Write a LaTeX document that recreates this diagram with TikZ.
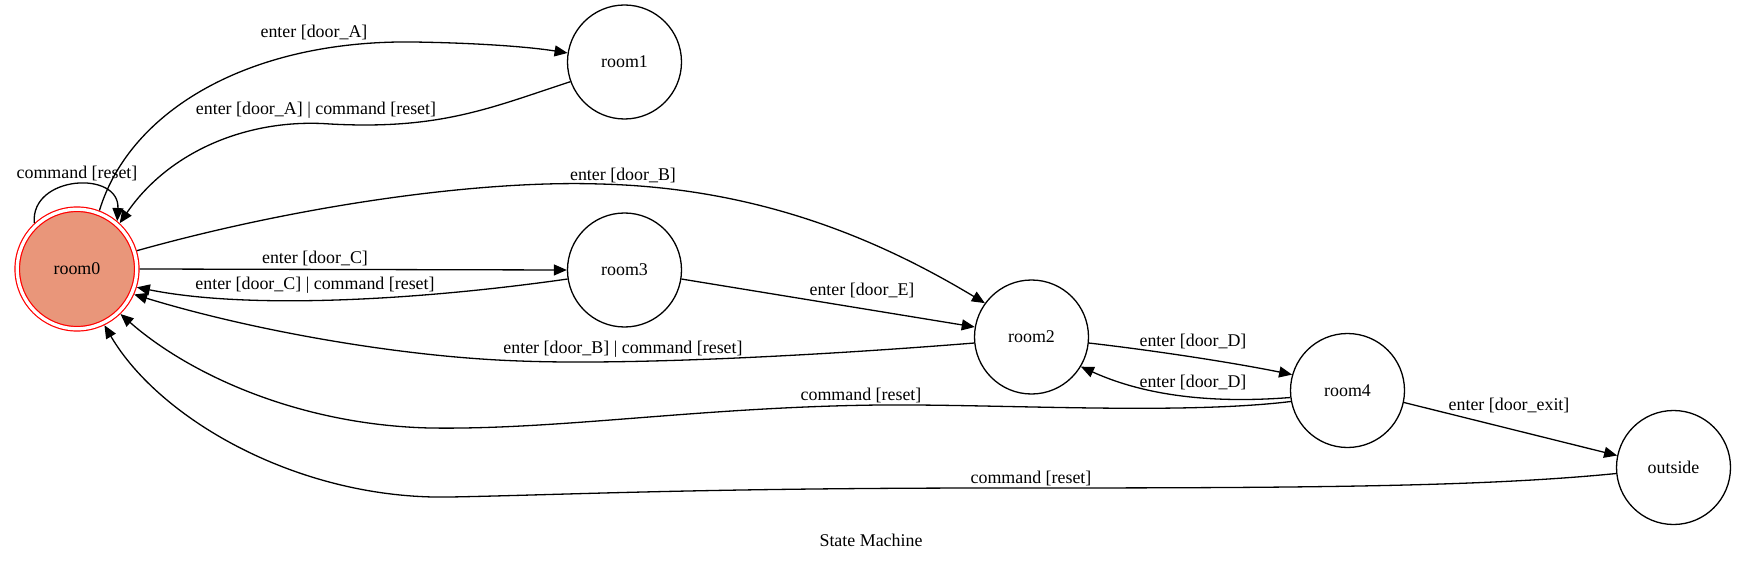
\documentclass[tikz,border=0pt]{standalone}
\usepackage{fontspec}
\setmainfont{Liberation Serif}
\usetikzlibrary{arrows.meta}
\definecolor{salmonfill}{HTML}{E9967A}
\begin{document}
\begin{tikzpicture}[x=1pt,y=-1pt,
  state/.style={circle,draw=black,line width=1.3pt,minimum size=114pt,inner sep=0pt,font=\fontsize{17.9}{21}\selectfont},
  edge/.style={line width=1.3pt,-{Triangle[length=13pt,width=11pt]}},
  lbl/.style={font=\fontsize{17.9}{21}\selectfont,inner sep=0pt}]
\useasboundingbox (0,0) rectangle (1744,561);
\fill[white] (0,0) rectangle (1744,561);
% states
\node[state,fill=salmonfill,draw=red,double=white,double distance=3.3pt,line width=1.2pt,minimum size=119.5pt,outer sep=2.85pt] (room0) at (77,269) {room0};
\node[state] (room1) at (624.5,62) {room1};
\node[state] (room3) at (624.5,270) {room3};
\node[state] (room2) at (1031.5,337) {room2};
\node[state] (room4) at (1347.5,390.5) {room4};
\node[state] (outside) at (1673.5,467.5) {outside};
% edges
\draw[edge] (room0.69) .. controls (130,110) and (250,40) .. (413,42) .. controls (480,43) and (530,47) .. (room1.171);
\draw[edge] (room1.200) .. controls (490,108) and (440,130) .. (330,124) .. controls (250,118) and (170,150) .. (room0.47);
\draw[edge] (room0.133) .. controls (30,175) and (120,170) .. (room0.50);
\draw[edge] (room0.17) .. controls (300,205) and (480,180) .. (600,184) .. controls (760,188) and (880,240) .. (room2.144);
\draw[edge] (room0.east) -- (room3.west);
\draw[edge] (room3.189) .. controls (420,300) and (250,310) .. (room0.343);
\draw[edge] (room3.351) -- (room2.170);
\draw[edge] (room2.186) .. controls (800,357) and (620,365) .. (520,361) .. controls (400,357) and (250,330) .. (room0.336);
\draw[edge] (room2.354) .. controls (1150,350) and (1230,362) .. (room4.164);
\draw[edge] (room4.187) .. controls (1220,403) and (1150,398) .. (room2.329);
\draw[edge] (room4.191) .. controls (1180,415) and (1000,404) .. (880,405) .. controls (700,407) and (560,430) .. (430,428) .. controls (300,425) and (190,375) .. (room0.314);
\draw[edge] (room4.348) -- (outside.168);
\draw[edge] (outside.186) .. controls (1480,487) and (1300,488) .. (1000,488) .. controls (700,488) and (560,495) .. (450,497) .. controls (300,500) and (160,420) .. (room0.296);
% labels
\node[lbl] (l1) at (314,32) {enter [door\_A]};
\node[lbl] (l2) at (316,110) {enter [door\_A] | command [reset]};
\node[lbl] (l3) at (77,173) {command [reset]};
\node[lbl] (l4) at (623,175) {enter [door\_B]};
\node[lbl] (l5) at (315,258) {enter [door\_C]};
\node[lbl] (l6) at (315,285) {enter [door\_C] | command [reset]};
\node[lbl] (l7) at (862,290) {enter [door\_E]};
\node[lbl] (l8) at (623,349) {enter [door\_B] | command [reset]};
\node[lbl] (l9) at (1193,341) {enter [door\_D]};
\node[lbl] (l10) at (1193,382) {enter [door\_D]};
\node[lbl] (l11) at (861,395) {command [reset]};
\node[lbl] (l12) at (1509,405) {enter [door\_exit]};
\node[lbl] (l13) at (1031,478) {command [reset]};
\node[lbl] (title) at (871,540) {State Machine};
\end{tikzpicture}
\end{document}
